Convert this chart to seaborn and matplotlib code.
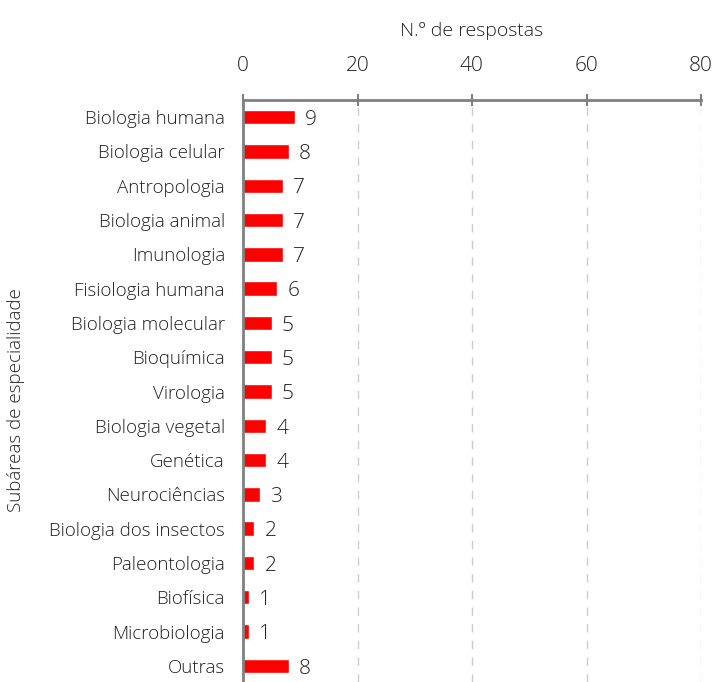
import pandas as pd
import seaborn as sns
import matplotlib.pyplot as plt
from matplotlib.ticker import FixedLocator

sns.set_style("white")
plt.rcParams["font.family"] = ["Open Sans", "DejaVu Sans"]
plt.rcParams["font.weight"] = "light"
plt.rcParams["axes.labelweight"] = "light"

# data
subareas = [
    "Biologia humana", "Biologia celular", "Antropologia", "Biologia animal",
    "Imunologia", "Fisiologia humana", "Biologia molecular", "Bioquímica",
    "Virologia", "Biologia vegetal", "Genética", "Neurociências",
    "Biologia dos insectos", "Paleontologia", "Biofísica", "Microbiologia",
    "Outras",
]
respostas = [9, 8, 7, 7, 7, 6, 5, 5, 5, 4, 4, 3, 2, 2, 1, 1, 8]
x_ticks = [0, 20, 40, 60, 80]

df = pd.DataFrame({"subarea": subareas, "respostas": respostas})

fig = plt.figure(figsize=(7.17, 6.82), dpi=100)
ax = fig.add_axes([243 / 717, 0.0, (701 - 243) / 717, 1 - 100 / 682])

sns.barplot(data=df, y="subarea", x="respostas", orient="h", color="#ff0000",
            width=0.42, saturation=1, ax=ax)

ax.set_xlim(0, 80)
ax.set_ylim(16.47, -0.5)
ax.xaxis.tick_top()
ax.xaxis.set_label_position("top")
ax.set_xticks(x_ticks)
ax.set_xticklabels([str(t) for t in x_ticks], fontsize=15, color="#222222")
ax.tick_params(axis="x", direction="inout", length=9, width=1.5, color="#808080", pad=13)
ax.set_xlabel("N.º de respostas", fontsize=14, color="#222222", labelpad=14)

ax.tick_params(axis="y", which="major", length=0, labelsize=13.5, labelcolor="#222222", pad=13)
ax.yaxis.set_minor_locator(FixedLocator([i + 0.5 for i in range(-1, len(subareas))]))
ax.tick_params(axis="y", which="minor", direction="out", length=8, width=1.5, color="#808080")
ax.set_ylabel("Subáreas de especialidade", fontsize=13.5, color="#222222")
ax.yaxis.set_label_coords(-0.475, 0.485)

for x in x_ticks[1:]:
    ax.axvline(x, color="#cccccc", lw=1, ls=(0, (6, 6)), zorder=0)

for s in ["right", "bottom"]:
    ax.spines[s].set_visible(False)
for s in ["top", "left"]:
    ax.spines[s].set_color("#808080")
    ax.spines[s].set_linewidth(2)

for i, v in enumerate(respostas):
    ax.text(v + 1.8, i + 0.08, str(v), va="center", ha="left", fontsize=15, color="#222222")

fig.savefig("out.png", dpi=100)
